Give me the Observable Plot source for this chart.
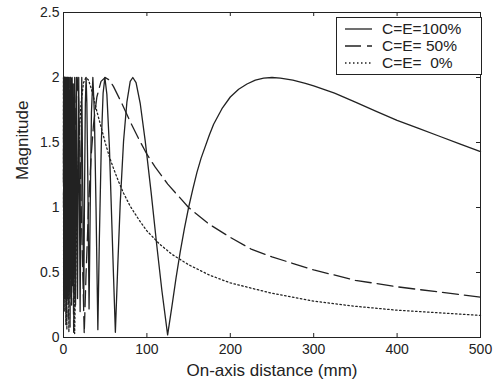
<!DOCTYPE html>
<html><head><meta charset="utf-8">
<script src="https://cdn.jsdelivr.net/npm/d3@7"></script>
<script src="https://cdn.jsdelivr.net/npm/@observablehq/plot@0.6"></script>
<style>
body{margin:0;background:#fff}
#wrap{position:relative;width:497px;height:382px;overflow:hidden}
#legend{position:absolute;left:0;top:0;pointer-events:none}
</style>
</head><body><div id="wrap"></div>
<script>
// ---- data ----
const xTicks = [0, 100, 200, 300, 400, 500];
const yTicks = [0, 0.5, 1, 1.5, 2, 2.5];
const seriesNames = ["C=E=100%", "C=E= 50%", "C=E=  0%"];

const solid100 = [
  [0,1.2],[0.11,2.0],[0.26,0.6],[0.42,1.9],[0.58,0.4],[0.74,2.0],[0.91,0.5],[1.08,1.9],[1.25,0.3],[1.43,2.0],
  [1.61,0.6],[1.79,1.95],[1.99,0.4],[2.18,2.0],[2.38,0.5],[2.59,1.9],[2.80,0.3],[3.02,2.0],[3.25,0.7],[3.49,1.95],
  [3.73,0.4],[3.98,2.0],[4.24,0.5],[4.52,1.85],[4.80,0.3],[5.10,2.0],[5.41,0.6],[5.74,1.95],[6.08,0.35],[6.45,2.0],
  [6.83,0.5],[7.23,1.9],[7.67,0.3],[8.13,2.0],[8.62,0.45],[9.14,1.95],[9.71,0.25],[10.33,2.0],[11.0,0.4],[11.73,1.95],
  [12.54,0.3],[13.43,2.0],[14.43,0.25],[15.54,2.0],[16.81,0.3],[18.26,2.0],[19.93,0.2],[21.9,2.0],[24.25,0.25],
  [25.2,1.1],[26.2,1.8],[27.1,2.0],[28.0,1.8],[29.2,1.2],[30.65,0.22],[32,0.98],[33.5,1.73],[35.2,2.0],[37,1.73],
  [39,1.0],[41.2,0.06],[43,0.76],[45.5,1.53],[47.5,1.88],[49.6,2.0],[52,1.87],[55,1.47],[58,0.87],[60,0.47],
  [62.2,0.04],[65,0.54],[68,1.03],[72,1.51],[76,1.81],[80,1.97],[83.1,2.0],[87,1.96],[92,1.80],[98,1.51],
  [105,1.12],[112,0.70],[118,0.36],[124.85,0.02],[130,0.24],[135,0.46],[140,0.66],[145,0.84],[150,1.0],[155,1.14],
  [160,1.27],[165,1.38],[175,1.56],[180,1.64],[190,1.76],[200,1.85],[210,1.91],[220,1.95],[230,1.98],[240,1.995],
  [250,2.0],[260,1.995],[275,1.98],[290,1.955],[300,1.935],[325,1.88],[350,1.81],[375,1.74],[400,1.67],[425,1.61],
  [450,1.55],[475,1.49],[500,1.43]
];

const dashed50 = [
  [0,1.0],[0.125,2.0],[0.28,0.5],[0.45,1.9],[0.62,0.3],[0.81,2.0],[1.0,0.6],[1.21,1.95],[1.43,0.4],[1.67,2.0],
  [1.93,0.3],[2.21,1.95],[2.52,0.5],[2.87,2.0],[3.27,0.2],[3.72,1.95],[4.25,0.3],[4.88,2.0],[5.65,0.15],[6.1,1.2],
  [6.62,2.0],[7.2,1.3],[7.88,0.08],[8.8,1.4],[9.63,2.0],[10.5,1.5],[11.3,0.8],[12.2,0.04],[13,0.72],[14,1.41],
  [15,1.81],[16.4,2.0],[18,1.84],[20,1.37],[22,0.78],[23.5,0.4],[24.85,0.03],[27,0.48],[30,1.0],[33,1.38],
  [36,1.64],[40,1.85],[45,1.97],[50,2.0],[55,1.98],[60,1.93],[70,1.80],[80,1.66],[90,1.53],[100,1.41],
  [110,1.31],[125,1.18],[150,1.0],[175,0.87],[200,0.77],[225,0.68],[250,0.62],[300,0.52],[350,0.44],[400,0.39],
  [450,0.35],[500,0.31]
];

const dotted0 = [
  [0,2.0],[0.15,0.3],[0.31,1.9],[0.49,0.4],[0.68,2.0],[0.88,0.2],[1.10,1.95],[1.35,0.5],[1.63,2.0],[1.95,0.3],
  [2.33,1.9],[2.78,0.1],[3.05,1.2],[3.33,2.0],[3.7,1.2],[4.05,0.06],[4.5,1.3],[5.02,2.0],[5.7,1.2],[6.45,0.04],
  [7.2,1.1],[8.0,1.75],[8.78,2.0],[10,1.70],[11,1.21],[12,0.68],[13.35,0.03],[15,0.62],[17,1.2],[19,1.58],
  [21,1.8],[24,1.96],[27,2.0],[30,1.98],[33,1.92],[36,1.85],[40,1.74],[45,1.62],[50,1.50],[55,1.39],
  [60,1.30],[66,1.20],[72,1.11],[80,1.01],[90,0.91],[100,0.82],[115,0.72],[130,0.64],[150,0.56],[175,0.48],
  [200,0.42],[250,0.34],[300,0.28],[350,0.24],[400,0.21],[450,0.19],[500,0.17]
];

// ---- styles ----
const ink = "#222";
const dashStyles = ["none", "16,6", "1.5,2.5"];
const font = "'Liberation Sans', Arial, Helvetica, sans-serif";

const W = 497, H = 382, mL = 63, mR = 17, mT = 12, mB = 45;
const frameW = W - mL - mR, frameH = H - mT - mB;
const tickLen = 4;

const lineOpts = (i) => ({
  x: d => d[0], y: d => d[1], stroke: ink, strokeWidth: 1.3,
  strokeDasharray: dashStyles[i] === "none" ? null : dashStyles[i],
  strokeLinejoin: "round"
});

const chart = Plot.plot({
  width: W, height: H,
  marginLeft: mL, marginRight: mR, marginTop: mT, marginBottom: mB,
  style: {fontFamily: font, background: "#fff", color: ink, overflow: "visible"},
  x: {domain: [0, 500]},
  y: {domain: [0, 2.5]},
  marks: [
    Plot.line(dotted0, lineOpts(2)),
    Plot.line(dashed50, lineOpts(1)),
    Plot.line(solid100, lineOpts(0)),
    Plot.frame({stroke: ink, strokeWidth: 1}),
    // inward ticks on all four sides (MATLAB box style)
    Plot.tickX(xTicks, {x: d => d, insetTop: frameH - tickLen, stroke: ink}),
    Plot.tickX(xTicks, {x: d => d, insetBottom: frameH - tickLen, stroke: ink}),
    Plot.tickY(yTicks, {y: d => d, insetRight: frameW - tickLen, stroke: ink}),
    Plot.tickY(yTicks, {y: d => d, insetLeft: frameW - tickLen, stroke: ink}),
    Plot.axisX(xTicks, {tickSize: 0, tickPadding: 7, fontSize: 14, label: null, tickFormat: d => String(d)}),
    Plot.axisY(yTicks, {tickSize: 0, tickPadding: 4, fontSize: 14, label: null, tickFormat: d => String(d)}),
    Plot.text(["On-axis distance (mm)"], {text: d => d, frameAnchor: "bottom", dy: 38, fontSize: 17, fill: ink}),
    Plot.text(["Magnitude"], {text: d => d, frameAnchor: "left", dx: -41, dy: 5, rotate: -90, fontSize: 17, fill: ink})
  ]
});

const wrap = document.getElementById("wrap");
wrap.appendChild(chart);

// ---- legend (inside the plot area, upper right) ----
const ns = "http://www.w3.org/2000/svg";
const leg = document.createElementNS(ns, "svg");
leg.setAttribute("id", "legend");
leg.setAttribute("width", W);
leg.setAttribute("height", H);
const bx = 336, by = 17, bw = 145, bh = 57;
const rect = document.createElementNS(ns, "rect");
rect.setAttribute("x", bx + 0.5); rect.setAttribute("y", by + 0.5);
rect.setAttribute("width", bw); rect.setAttribute("height", bh);
rect.setAttribute("fill", "#fff"); rect.setAttribute("stroke", ink);
leg.appendChild(rect);
seriesNames.forEach((name, i) => {
  const yy = by + 12 + i * 17;
  const ln = document.createElementNS(ns, "line");
  ln.setAttribute("x1", bx + 9); ln.setAttribute("x2", bx + 36);
  ln.setAttribute("y1", yy); ln.setAttribute("y2", yy);
  ln.setAttribute("stroke", ink); ln.setAttribute("stroke-width", 1.3);
  if (dashStyles[i] !== "none") ln.setAttribute("stroke-dasharray", dashStyles[i]);
  leg.appendChild(ln);
  const tx = document.createElementNS(ns, "text");
  tx.setAttribute("x", bx + 46); tx.setAttribute("y", yy);
  tx.setAttribute("dy", "0.35em");
  tx.setAttribute("font-family", font);
  tx.setAttribute("font-size", 15.5);
  tx.setAttribute("fill", ink);
  tx.setAttribute("xml:space", "preserve");
  tx.style.whiteSpace = "pre";
  tx.textContent = name;
  leg.appendChild(tx);
});
wrap.appendChild(leg);
</script>
</body></html>
